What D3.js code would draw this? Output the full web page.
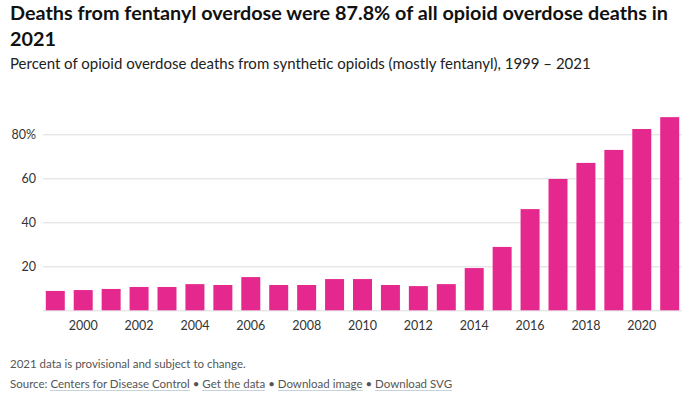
<!DOCTYPE html>
<html>
<head>
<meta charset="utf-8">
<script src="https://cdn.jsdelivr.net/npm/d3@7"></script>
<style>
  body { margin: 0; background: #fff; font-family: Lato, "Open Sans", sans-serif; }
  #wrap { position: relative; width: 693px; height: 396px; overflow: hidden; }
  #note { position: absolute; left: 10px; top: 357px; font-size: 11.5px; color: #555; }
  #source { position: absolute; left: 10px; top: 377px; font-size: 11.5px; color: #555; }
  #source a { color: #555; text-decoration: none; border-bottom: 1px solid #c5d3dc; }
  svg { position: absolute; left: 0; top: 0; }
</style>
</head>
<body>
<div id="wrap">
  <svg id="chart" width="693" height="396"></svg>
  <div id="note">2021 data is provisional and subject to change.</div>
  <div id="source">Source: <a>Centers for Disease Control</a> • <a>Get the data</a> • <a>Download image</a> • <a>Download SVG</a></div>
</div>
<script>
// data
const years = [1999, 2000, 2001, 2002, 2003, 2004, 2005, 2006, 2007, 2008, 2009, 2010,
    2011, 2012, 2013, 2014, 2015, 2016, 2017, 2018, 2019, 2020, 2021];
const percents = [8.8, 9.2, 9.7, 10.6, 10.6, 11.9, 11.5, 15.1, 11.5, 11.5, 14.2, 14.2,
    11.5, 11.0, 11.9, 19.2, 28.8, 46.0, 59.7, 67.0, 72.9, 82.4, 87.8];
const yTicks = [20, 40, 60, 80];
const xTicks = [2000, 2002, 2004, 2006, 2008, 2010, 2012, 2014, 2016, 2018, 2020];
const titleLines = ["Deaths from fentanyl overdose were 87.8% of all opioid overdose deaths in", "2021"];
const subtitle = "Percent of opioid overdose deaths from synthetic opioids (mostly fentanyl), 1999 – 2021";

const data = years.map((y, i) => ({ year: y, value: percents[i] }));

let root = d3.select("#chart");

// title + subtitle
root.selectAll(".title")
    .data(titleLines)
    .enter().append("text")
    .attr("class", "title")
    .attr("x", 10)
    .attr("y", (d, i) => 19.5 + i * 26)
    .attr("font-size", 19.8)
    .attr("font-weight", 700)
    .attr("fill", "#111")
    .text(d => d);

root.append("text")
    .attr("x", 10)
    .attr("y", 68.5)
    .attr("font-size", 15)
    .attr("fill", "#222")
    .text(subtitle);

let margin = { top: 134.3, left: 43, right: 11, bottom: 85.7 },
    width = 693 - margin.left - margin.right,
    height = 396 - margin.top - margin.bottom;

let x = d3.scaleBand()
    .domain(years)
    .range([0, width])
    .paddingInner(0.32)
    .paddingOuter(0.1);
let y = d3.scaleLinear()
    .domain([0, 80])
    .range([height, 0]);

let svg = root.append("g")
    .attr("transform", "translate(" + margin.left + "," + margin.top + ")");

// gridlines
svg.selectAll(".grid")
    .data([0].concat(yTicks))
    .enter().append("line")
    .attr("x1", 0)
    .attr("x2", width)
    .attr("y1", d => Math.round(y(d)) + 0.5)
    .attr("y2", d => Math.round(y(d)) + 0.5)
    .attr("stroke", "#dcdcdc")
    .attr("stroke-width", 1);

// y labels
svg.selectAll(".ylab")
    .data(yTicks)
    .enter().append("text")
    .attr("x", -7)
    .attr("y", d => y(d))
    .attr("dy", "0.35em")
    .attr("text-anchor", "end")
    .attr("font-size", 12.5)
    .attr("fill", "#333")
    .text(d => d === 80 ? d + "%" : d);

// bars
svg.selectAll(".bar")
    .data(data)
    .enter().append("rect")
    .attr("class", "bar")
    .attr("x", d => x(d.year))
    .attr("width", x.bandwidth())
    .attr("y", d => y(d.value))
    .attr("height", d => height - y(d.value))
    .attr("fill", "#e5288e");

// x labels
svg.selectAll(".xlab")
    .data(xTicks)
    .enter().append("text")
    .attr("x", d => x(d) + x.bandwidth() / 2)
    .attr("y", height + 15)
    .attr("dy", "0.35em")
    .attr("text-anchor", "middle")
    .attr("font-size", 12.5)
    .attr("fill", "#333")
    .text(d => d);
</script>
</body>
</html>
